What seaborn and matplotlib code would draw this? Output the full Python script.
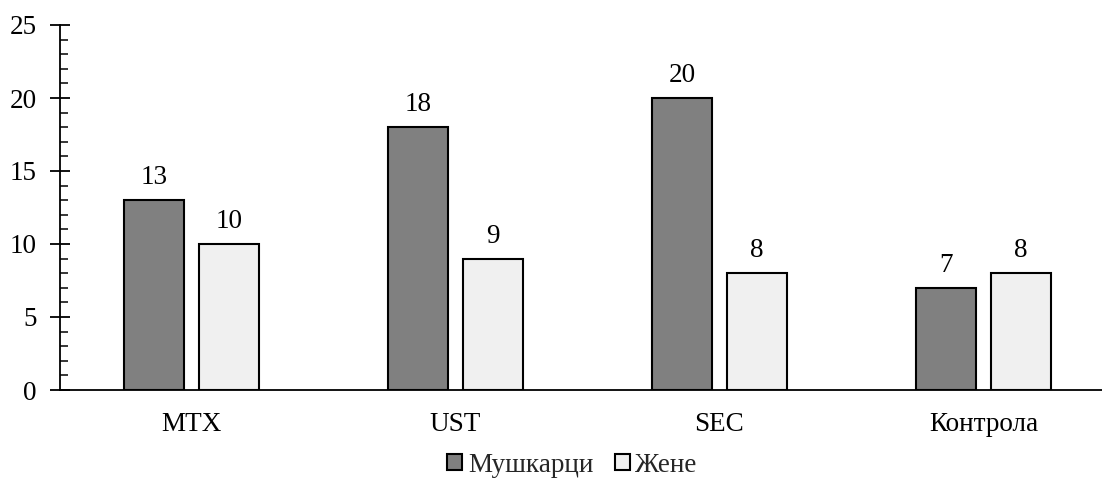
import matplotlib
matplotlib.use("Agg")
import matplotlib.pyplot as plt
import seaborn as sns
import pandas as pd
from matplotlib.ticker import MultipleLocator

categories = ["MTX", "UST", "SEC", "Контрола"]
series_names = ["Мушкарци", "Жене"]
men = [13, 18, 20, 7]
women = [10, 9, 8, 8]
colors = ["#808080", "#f0f0f0"]

df = pd.DataFrame({
    "cat": categories * 2,
    "group": [series_names[0]] * 4 + [series_names[1]] * 4,
    "value": men + women,
})

sns.set_theme(style="white")
plt.rcParams["font.family"] = ["Liberation Serif", "DejaVu Serif"]

FS = 19.5
fig = plt.figure(figsize=(11.02, 4.91), dpi=100)
ax = fig.add_axes([59.5 / 1102, 1 - 390 / 491, 1056 / 1102, 365 / 491])

sns.barplot(data=df, x="cat", y="value", hue="group", order=categories,
            hue_order=series_names, palette=colors, width=0.568, gap=0.2,
            edgecolor="black", linewidth=1.5, ax=ax, legend=True)

for cont in ax.containers:
    ax.bar_label(cont, fmt="%d", padding=7, fontsize=FS, color="black")

ax.set_ylim(0, 25)
ax.set_xlim(-0.5, 3.5)
ax.yaxis.set_major_locator(MultipleLocator(5))
ax.yaxis.set_minor_locator(MultipleLocator(1))
ax.tick_params(axis="y", which="major", direction="inout", length=15, width=1.3,
               labelsize=FS, pad=9, left=True, colors="black")
ax.tick_params(axis="y", which="minor", direction="in", length=6, width=1.3, left=True)
ax.tick_params(axis="x", length=0, labelsize=FS, pad=16, colors="black")
ax.set_xlabel("")
ax.set_ylabel("")
for s in ["top", "right"]:
    ax.spines[s].set_visible(False)
for s in ["left", "bottom"]:
    ax.spines[s].set_color("black")
    ax.spines[s].set_linewidth(1.3)

handles, labels = ax.get_legend_handles_labels()
ax.legend(handles, labels, loc="center", bbox_to_anchor=(572 / 1102, 1 - 465 / 491),
          bbox_transform=fig.transFigure, ncol=2, frameon=False, fontsize=FS,
          handlelength=0.55, handleheight=0.55, handletextpad=0.2, columnspacing=0.8)

fig.savefig("out.png", dpi=100)
